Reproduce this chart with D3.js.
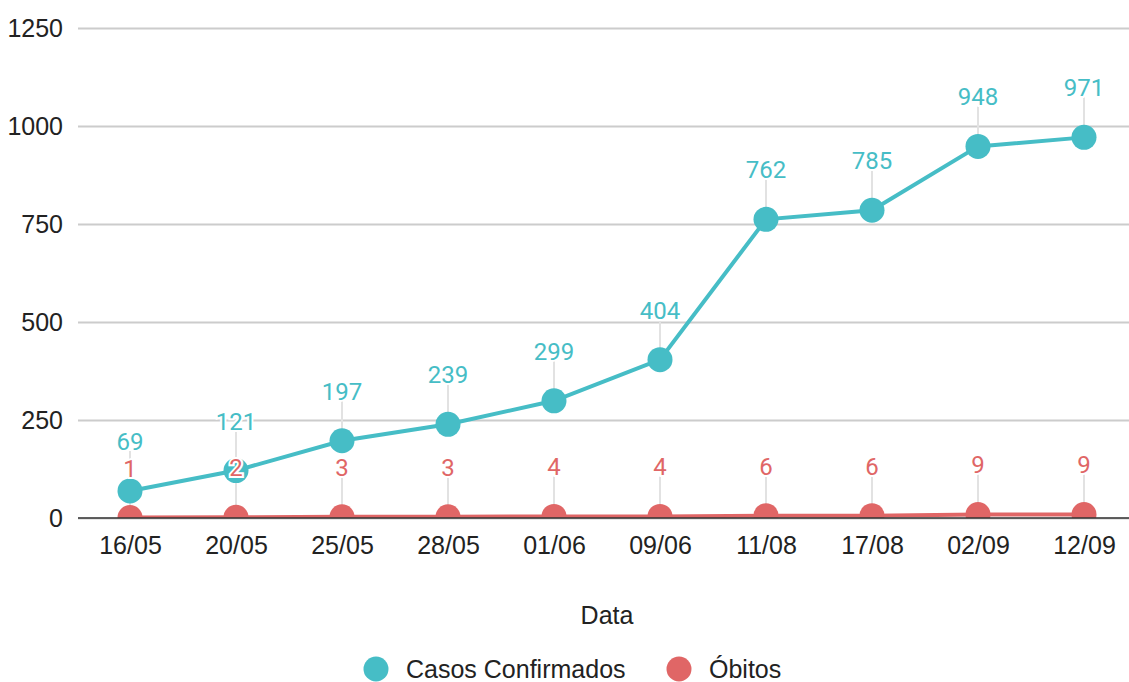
<!DOCTYPE html>
<html>
<head>
<meta charset="utf-8">
<script src="https://cdn.jsdelivr.net/npm/d3@7"></script>
<style>
  body { margin: 0; background: #fff; }
  svg { display: block; }
</style>
</head>
<body>
<div id="chart"></div>
<script>
// data
const dates = ['16/05', '20/05', '25/05', '28/05', '01/06', '09/06', '11/08', '17/08', '02/09', '12/09'];
const casos = [69, 121, 197, 239, 299, 404, 762, 785, 948, 971];
const obitos = [1, 2, 3, 3, 4, 4, 6, 6, 9, 9];
const yTicks = [0, 250, 500, 750, 1000, 1250];

const seriesNames = ['Casos Confirmados', 'Óbitos'];
const seriesColors = ['#46bdc6', '#e06666'];

const width = 1129;
const height = 682;
const axisFont = 'Liberation Sans, Arial, sans-serif';

const svg = d3.select('#chart')
    .append('svg')
    .attr('width', width)
    .attr('height', height);

const plotLeft = 78, plotRight = 1129, plotTop = 28, plotBottom = 518;

const x = d3.scalePoint()
    .domain(dates)
    .range([77, 1137])
    .padding(0.5);

const y = d3.scaleLinear()
    .domain([0, 1250])
    .range([plotBottom, plotTop]);

// clip for the plot area
svg.append('clipPath')
    .attr('id', 'plot-clip')
    .append('rect')
    .attr('x', plotLeft)
    .attr('y', 0)
    .attr('width', plotRight - plotLeft)
    .attr('height', plotBottom);

// gridlines + y labels
const yAxis = svg.append('g')
    .attr('transform', `translate(${plotLeft},0)`)
    .call(d3.axisLeft(y).tickValues(yTicks).tickFormat(d3.format('d'))
        .tickSize(-(plotRight - plotLeft)).tickPadding(15));
yAxis.select('.domain').remove();
yAxis.selectAll('.tick line')
    .attr('stroke', '#cccccc')
    .attr('stroke-width', 2);
yAxis.selectAll('.tick text')
    .attr('fill', '#222')
    .style('font-family', axisFont)
    .style('font-size', '25px');

// x labels
const xAxis = svg.append('g')
    .attr('transform', `translate(0,${plotBottom})`)
    .call(d3.axisBottom(x).tickSize(0).tickPadding(18));
xAxis.select('.domain').remove();
xAxis.selectAll('.tick text')
    .attr('fill', '#222')
    .style('font-family', axisFont)
    .style('font-size', '25px');

const series = [casos, obitos];
const plot = svg.append('g').attr('clip-path', 'url(#plot-clip)');

// leader lines for the labels
series.forEach((vals, si) => {
    plot.selectAll('.leader-' + si)
        .data(vals)
        .enter()
        .append('line')
        .attr('x1', (d, i) => x(dates[i]))
        .attr('x2', (d, i) => x(dates[i]))
        .attr('y1', d => y(d))
        .attr('y2', d => y(d) - 40)
        .attr('stroke', '#e2e2e2')
        .attr('stroke-width', 2);
});

// baseline
svg.append('line')
    .attr('x1', plotLeft)
    .attr('x2', plotRight)
    .attr('y1', plotBottom)
    .attr('y2', plotBottom)
    .attr('stroke', '#333')
    .attr('stroke-width', 1.5);

const line = d3.line()
    .x((d, i) => x(dates[i]))
    .y(d => y(d));

// draw obitos first, then casos on top
[1, 0].forEach(si => {
    plot.append('path')
        .datum(series[si])
        .attr('d', line)
        .attr('fill', 'none')
        .attr('stroke', seriesColors[si])
        .attr('stroke-width', 4);
    plot.selectAll('.pt-' + si)
        .data(series[si])
        .enter()
        .append('circle')
        .attr('cx', (d, i) => x(dates[i]))
        .attr('cy', d => y(d))
        .attr('r', 12.5)
        .attr('fill', seriesColors[si]);
});

// data labels
series.forEach((vals, si) => {
    svg.selectAll('.lbl-' + si)
        .data(vals)
        .enter()
        .append('text')
        .attr('x', (d, i) => x(dates[i]))
        .attr('y', d => y(d) - 41)
        .attr('text-anchor', 'middle')
        .attr('fill', seriesColors[si])
        .attr('stroke', '#fff')
        .attr('stroke-width', 4)
        .attr('paint-order', 'stroke')
        .style('font-family', 'Roboto, sans-serif')
        .style('font-size', '24px')
        .text(d => d);
});

// axis title
svg.append('text')
    .attr('x', 607)
    .attr('y', 624)
    .attr('text-anchor', 'middle')
    .attr('fill', '#222')
    .style('font-family', axisFont)
    .style('font-size', '25px')
    .text('Data');

// legend
const legendX = [376, 679];
const legend = svg.append('g');
seriesNames.forEach((name, i) => {
    legend.append('circle')
        .attr('cx', legendX[i])
        .attr('cy', 669)
        .attr('r', 12.5)
        .attr('fill', seriesColors[i]);
    legend.append('text')
        .attr('x', legendX[i] + 30)
        .attr('y', 678)
        .attr('fill', '#222')
        .style('font-family', axisFont)
        .style('font-size', '25px')
        .text(name);
});
</script>
</body>
</html>
